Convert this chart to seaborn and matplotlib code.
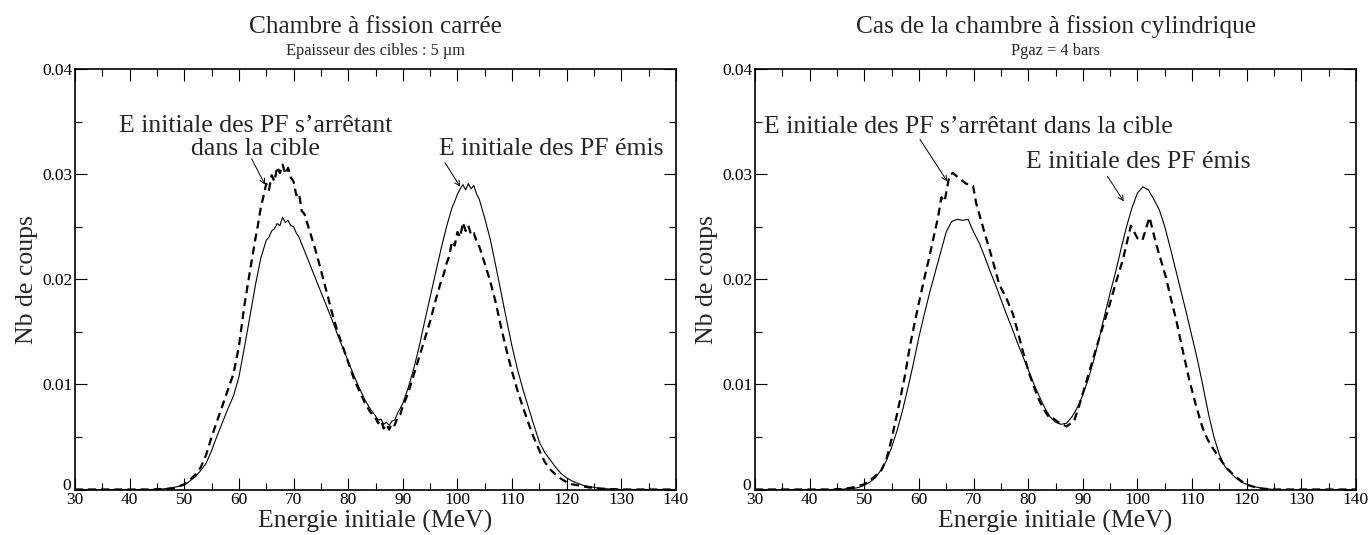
import matplotlib
matplotlib.use("Agg")
import matplotlib.pyplot as plt
from matplotlib.ticker import MultipleLocator
from matplotlib.transforms import ScaledTranslation
import seaborn as sns

"""
Two panels: initial energy distribution of fission products,
square fission chamber (left) and cylindrical fission chamber (right).
"""

# ---- left panel : chambre carree ----
left_emis_E = [30, 44, 46, 47, 48, 49, 50, 51, 52, 53, 54, 55, 56, 57, 58, 59, 60, 61, 62, 63, 64, 65,
               65.5, 66, 66.5, 67, 67.5, 68, 68.5, 69, 69.5, 70, 70.5, 71,
               72, 73, 74, 75, 76, 77, 78, 79, 80, 81, 82, 83, 84, 85,
               85.5, 86, 86.5, 87, 87.5, 88, 88.5, 89, 90, 91, 92, 93, 94, 95, 96, 97, 98, 99,
               99.5, 100, 100.5, 101, 101.5, 102, 102.5, 103, 103.5, 104,
               105, 106, 107, 108, 109, 110, 111, 112, 113, 114, 115, 116, 117, 118, 119, 120,
               121, 122, 123, 124, 125, 126, 128, 130, 140]
left_emis = [0, 0, 0.00005, 0.0001, 0.0002, 0.0003, 0.0004, 0.0008, 0.0012, 0.0018, 0.0025, 0.0037,
             0.0051, 0.0064, 0.0077, 0.0089, 0.0107, 0.0135, 0.0164, 0.0194, 0.0220, 0.0237,
             0.0240, 0.0246, 0.0248, 0.0253, 0.0251, 0.0259, 0.0254, 0.0256, 0.0251, 0.0250, 0.0244, 0.0240,
             0.0227, 0.0214, 0.0201, 0.0188, 0.0175, 0.0162, 0.0148, 0.0135, 0.0122, 0.0109, 0.0097,
             0.0086, 0.0077, 0.0070,
             0.0066, 0.0067, 0.0062, 0.0064, 0.0061, 0.0065, 0.0066, 0.0072, 0.0082, 0.0097, 0.0115,
             0.0136, 0.0160, 0.0183, 0.0206, 0.0229, 0.0250, 0.0268,
             0.0274, 0.0281, 0.0286, 0.0290, 0.0285, 0.0291, 0.0286, 0.0289, 0.0281, 0.0276,
             0.0258, 0.0238, 0.0213, 0.0187, 0.0161, 0.0136, 0.0114, 0.0095, 0.0078, 0.0061, 0.0045,
             0.0035, 0.0028, 0.0021, 0.0015, 0.0011,
             0.0008, 0.0006, 0.0004, 0.0003, 0.0002, 0.0001, 0.00005, 0, 0]

left_cible_E = [30, 44, 46, 48, 49, 50, 51, 52, 53, 54, 55, 56, 57, 58, 59, 60, 61, 62, 63,
                63.5, 64, 64.5, 65, 65.5, 66, 66.5, 67, 67.5, 68, 68.5, 69, 69.5, 70, 70.5, 71, 71.5, 72,
                73, 74, 75, 76, 77, 78, 79, 80, 81, 82, 83, 84, 85,
                85.5, 86, 86.5, 87, 87.5, 88, 88.5, 89, 89.5, 90,
                91, 92, 93, 94, 95, 96, 97,
                97.5, 98, 98.5, 99, 99.5, 100, 100.5, 101, 101.5, 102, 102.5, 103, 103.5, 104,
                105, 106, 107, 108, 109, 110, 111, 112, 113, 114, 115, 116, 117, 118, 119, 120,
                121, 122, 123, 124, 126, 128, 130, 140]
left_cible = [0, 0, 0.00005, 0.0001, 0.0003, 0.0005, 0.0009, 0.0014, 0.0021, 0.0033, 0.0050, 0.0065,
              0.0080, 0.0095, 0.0110, 0.0136, 0.0175, 0.0207, 0.0238,
              0.0252, 0.0268, 0.0279, 0.0291, 0.0285, 0.0299, 0.0293, 0.0307, 0.0301, 0.0309, 0.0300,
              0.0306, 0.0297, 0.0293, 0.0280, 0.0282, 0.0265, 0.0262,
              0.0245, 0.0228, 0.0209, 0.0189, 0.0169, 0.0151, 0.0136, 0.0121, 0.0106, 0.0094, 0.0083,
              0.0074, 0.0068,
              0.0063, 0.0066, 0.0058, 0.0062, 0.0057, 0.0063, 0.0061, 0.0068, 0.0071, 0.0079,
              0.0092, 0.0109, 0.0126, 0.0143, 0.0160, 0.0180, 0.0198,
              0.0205, 0.0215, 0.0222, 0.0236, 0.0232, 0.0245, 0.0240, 0.0254, 0.0246, 0.0251, 0.0242,
              0.0244, 0.0236, 0.0231,
              0.0215, 0.0198, 0.0178, 0.0154, 0.0132, 0.0112, 0.0094, 0.0078, 0.0063, 0.0049, 0.0037,
              0.0026, 0.0019, 0.0014, 0.0010, 0.0007,
              0.0005, 0.0004, 0.0003, 0.0002, 0.0001, 0.00003, 0, 0]

# ---- right panel : chambre cylindrique ----
right_emis_E = [30, 44, 46, 47, 48, 49, 50, 51, 52, 53, 54, 55, 56, 57, 58, 59, 60, 61, 62, 63, 64, 65,
                66, 67, 68, 69, 70, 71, 72, 73, 74, 75, 76, 77, 78, 79, 80, 81, 82, 83, 84, 85, 86, 87,
                88, 89, 90, 91, 92, 93, 94, 95, 96, 97, 98, 99, 100, 101, 102, 103, 104, 105, 106, 107,
                108, 109, 110, 111, 112, 113, 114, 115, 116, 117, 118, 119, 120, 121, 122, 123, 125, 140]
right_emis = [0, 0, 0.00002, 0.0001, 0.0001, 0.0002, 0.0004, 0.0007, 0.0011, 0.0018, 0.0027, 0.0040,
              0.0056, 0.0075, 0.0097, 0.0120, 0.0145, 0.0167, 0.0188, 0.0207, 0.0226, 0.0245,
              0.0255, 0.0257, 0.0256, 0.0257, 0.0245, 0.0235, 0.0222, 0.0208, 0.0195, 0.0181, 0.0167,
              0.0154, 0.0140, 0.0127, 0.0114, 0.0101, 0.0089, 0.0078, 0.0069, 0.0064, 0.0062, 0.0063,
              0.0069, 0.0078, 0.0090, 0.0105, 0.0123, 0.0144, 0.0166, 0.0187, 0.0207, 0.0229, 0.0250,
              0.0268, 0.0282, 0.0288, 0.0285, 0.0276, 0.0266, 0.0250, 0.0230, 0.0209,
              0.0188, 0.0167, 0.0145, 0.0123, 0.0098, 0.0072, 0.0050, 0.0033, 0.0022, 0.0016, 0.0011,
              0.0007, 0.0005, 0.0003, 0.0002, 0.0001, 0, 0]

right_cible_E = [30, 44, 46, 48, 50, 51.6, 53.1, 54, 55, 56.5, 57.5, 58.3, 59.2, 60.1, 61, 61.9, 62.7,
                 63.5, 64.1, 64.7, 65.6, 66.2, 67.4, 68.6, 69.9, 70.5, 71.7, 72.6, 73.5, 74.7, 76, 77.2,
                 78.1, 79, 80.2, 81.1, 82, 83, 83.9, 84.5, 85.5, 87, 88.4, 89.4, 90.6, 91.8, 93.3, 94.8,
                 96, 97.3, 98.8, 100, 100.9, 102.2, 103.4, 104.3, 105.2, 106.1, 107.1, 108.3, 109.5,
                 110.7, 111.9, 112.8, 113.7, 115, 116.2, 118, 119.8, 121, 122.5, 125, 140]
right_cible = [0, 0, 0.00005, 0.0002, 0.0005, 0.0011, 0.0018, 0.0028, 0.0048, 0.0084, 0.0110, 0.0135,
               0.0158, 0.0180, 0.0201, 0.0221, 0.0240,
               0.0259, 0.0278, 0.0274, 0.0299, 0.0301, 0.0296, 0.0291, 0.0289, 0.0272, 0.0250, 0.0234,
               0.0218, 0.0195, 0.0182, 0.0167,
               0.0150, 0.0132, 0.0110, 0.0097, 0.0085, 0.0075, 0.0068, 0.0068, 0.0064, 0.0060, 0.0065,
               0.0081, 0.0102, 0.0123, 0.0149, 0.0174,
               0.0196, 0.0218, 0.0251, 0.0239, 0.0237, 0.0259, 0.0234, 0.0218, 0.0202, 0.0182, 0.0161,
               0.0132, 0.0104,
               0.0080, 0.0059, 0.0048, 0.0040, 0.0030, 0.0021, 0.0012, 0.0005, 0.0003, 0.0001, 0, 0]

x_ticks = [30, 40, 50, 60, 70, 80, 90, 100, 110, 120, 130, 140]
y_ticks = [0, 0.01, 0.02, 0.03, 0.04]
y_tick_labels = ["0", "0.01", "0.02", "0.03", "0.04"]

titles = ["Chambre à fission carrée", "Cas de la chambre à fission cylindrique"]
subtitles = ["Epaisseur des cibles : 5 µm", "Pgaz = 4 bars"]

sns.set_style("ticks")
plt.rcParams["font.family"] = ["Liberation Serif", "DejaVu Serif"]

BIG = 18.5

fig = plt.figure(figsize=(13.72, 5.35), dpi=100)
ax_l = fig.add_axes([75 / 1372, 1 - 489.5 / 535, 601 / 1372, 420.5 / 535])
ax_r = fig.add_axes([755 / 1372, 1 - 489.5 / 535, 601 / 1372, 420.5 / 535])

dash = (0, (3.6, 2.3))
for ax, (e_emis, v_emis, e_cib, v_cib) in zip(
        [ax_l, ax_r],
        [(left_emis_E, left_emis, left_cible_E, left_cible),
         (right_emis_E, right_emis, right_cible_E, right_cible)]):
    sns.lineplot(x=e_emis, y=v_emis, ax=ax, color="black", linewidth=0.8, sort=False, estimator=None)
    sns.lineplot(x=e_cib, y=v_cib, ax=ax, color="black", linewidth=1.6, linestyle=dash,
                 sort=False, estimator=None)
    ax.set_xlim(30, 140)
    ax.set_ylim(0, 0.04)
    ax.set_xticks(x_ticks)
    ax.set_xticklabels([str(t) for t in x_ticks], fontsize=12.5)
    ax.set_yticks(y_ticks)
    ax.set_yticklabels(y_tick_labels, fontsize=12.5)
    ax.xaxis.set_minor_locator(MultipleLocator(5))
    ax.yaxis.set_minor_locator(MultipleLocator(0.005))
    ax.tick_params(which="both", direction="in", top=True, right=True, width=0.8, colors="black")
    ax.tick_params(which="major", length=8.6, pad=2)
    ax.tick_params(which="minor", length=4.8)
    for s in ax.spines.values():
        s.set_linewidth(1.2)
        s.set_color("black")
    ax.set_xlabel("Energie initiale (MeV)", fontsize=BIG, labelpad=1)
    ax.set_ylabel("Nb de coups", fontsize=BIG, labelpad=3)
    # the "0" of the y axis sits a little higher, clear of the "30"
    zero = ax.get_yticklabels()[0]
    zero.set_transform(zero.get_transform() + ScaledTranslation(-1 / 72, 4 / 72, fig.dpi_scale_trans))

for ax, t, st in zip([ax_l, ax_r], titles, subtitles):
    cx = (ax.get_position().x0 + ax.get_position().x1) / 2
    fig.text(cx, 1 - 33 / 535, t, ha="center", va="baseline", fontsize=18.3)
    fig.text(cx, 1 - 55 / 535, st, ha="center", va="baseline", fontsize=11.8)

arrow = dict(arrowstyle="->", color="black", lw=0.7, shrinkA=0, shrinkB=0, mutation_scale=9)

# left annotations
ax_l.text(63.1, 0.03398, "E initiale des PF s\u2019arrêtant", ha="center", va="baseline", fontsize=BIG)
ax_l.text(63.1, 0.03186, "dans la cible", ha="center", va="baseline", fontsize=BIG)
ax_l.annotate("", xy=(64.77, 0.0290), xytext=(62.34, 0.03145), arrowprops=arrow)
ax_l.text(117.2, 0.03186, "E initiale des PF émis", ha="center", va="baseline", fontsize=BIG)
ax_l.annotate("", xy=(100.5, 0.0288), xytext=(97.7, 0.0311), arrowprops=arrow)

# right annotations
ax_r.text(69.0, 0.0339, "E initiale des PF s\u2019arrêtant dans la cible", ha="center", va="baseline",
          fontsize=BIG)
ax_r.annotate("", xy=(65.2, 0.0293), xytext=(60.2, 0.0333), arrowprops=arrow)
ax_r.text(100.1, 0.0306, "E initiale des PF émis", ha="center", va="baseline", fontsize=BIG)
ax_r.annotate("", xy=(97.5, 0.0274), xytext=(94.5, 0.0298), arrowprops=arrow)

fig.savefig("out.png", dpi=100)
plt.close(fig)
